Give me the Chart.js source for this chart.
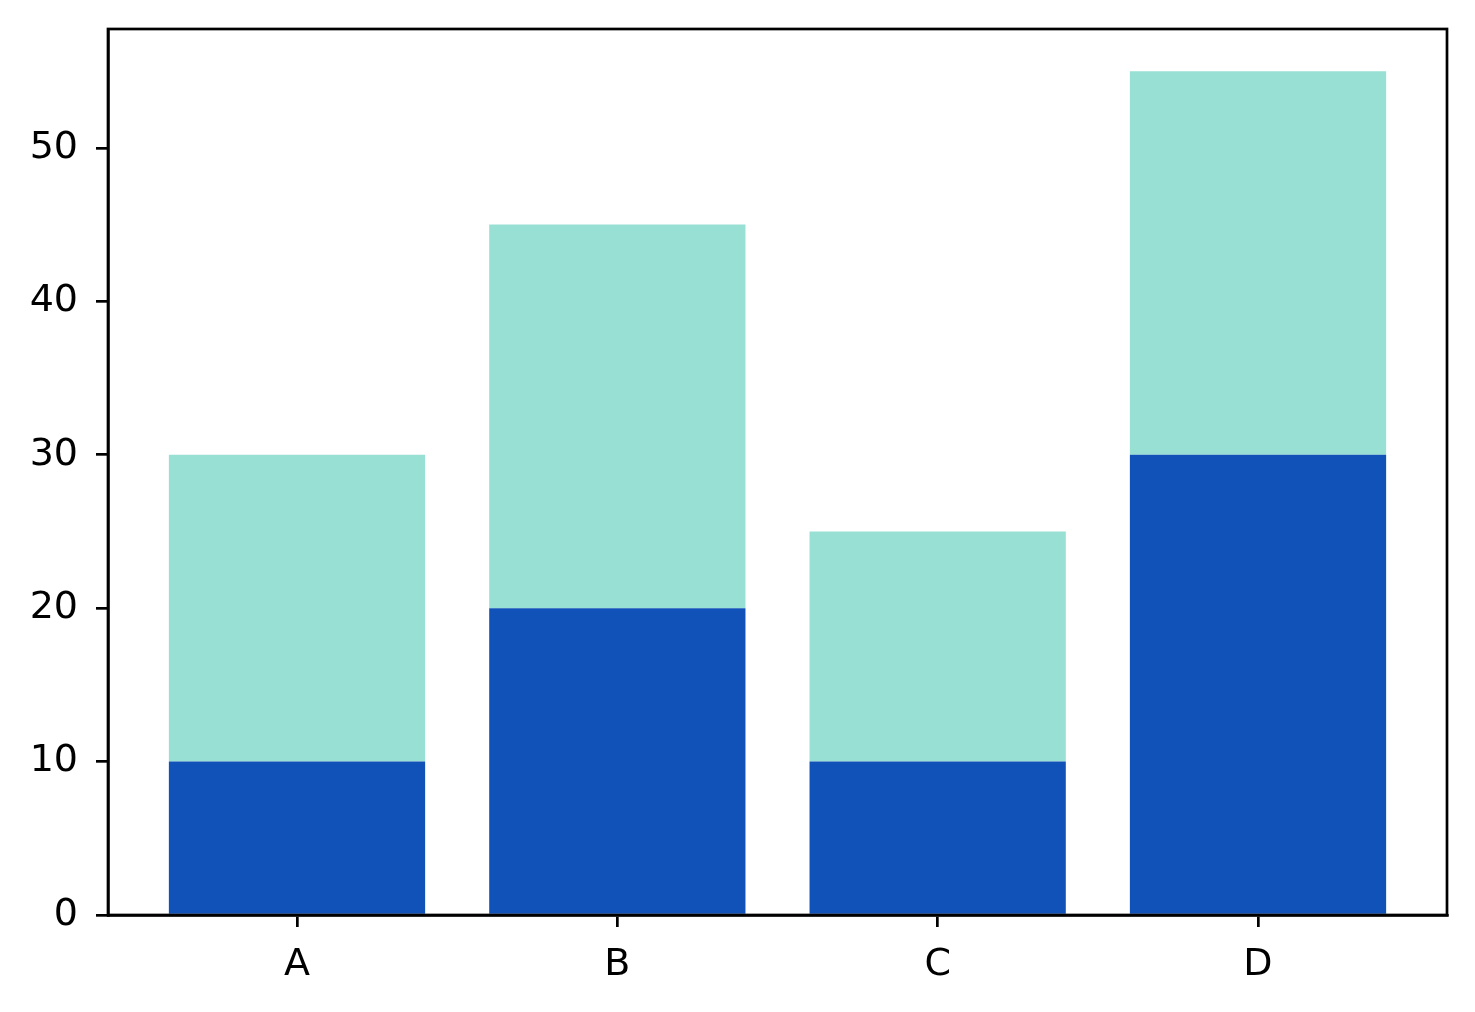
<!DOCTYPE html>
<html>
<head>
<meta charset="utf-8">
<script src="https://cdn.jsdelivr.net/npm/chart.js@4/dist/chart.umd.min.js"></script>
<style>
html,body{margin:0;padding:0;background:#fff;}
#wrap{width:1475px;height:1012px;}
</style>
</head>
<body>
<div id="wrap"><canvas id="c" width="1475" height="1012"></canvas></div>
<script>
const categories = ['A', 'B', 'C', 'D'];
const seriesBottom = [10, 20, 10, 30];
const seriesTop = [20, 25, 15, 25];
const yTicks = [0, 10, 20, 30, 40, 50];

const frame = {
  id: 'frame',
  afterDraw(chart) {
    const a = chart.chartArea, ctx = chart.ctx;
    ctx.save();
    ctx.strokeStyle = '#000';
    ctx.lineWidth = 2.7;
    ctx.strokeRect(a.left, a.top, a.right - a.left, a.bottom - a.top);
    ctx.restore();
  }
};

const font = {family: 'DejaVu Sans', size: 38};

new Chart(document.getElementById('c'), {
  type: 'bar',
  data: {
    datasets: [
      {data: categories.map((c, i) => ({x: i, y: seriesBottom[i]})), backgroundColor: '#1052b8', barPercentage: 0.8, categoryPercentage: 1},
      {data: categories.map((c, i) => ({x: i, y: seriesTop[i]})), backgroundColor: '#98dfd4', barPercentage: 0.8, categoryPercentage: 1}
    ]
  },
  options: {
    responsive: false,
    devicePixelRatio: 1,
    animation: false,
    layout: {padding: {top: 29, right: 28, left: 0, bottom: 0}},
    plugins: {legend: {display: false}, tooltip: {enabled: false}},
    scales: {
      x: {
        type: 'linear', stacked: true, min: -0.59, max: 3.59, offset: false,
        afterBuildTicks(s) { s.ticks = categories.map((c, i) => ({value: i})); },
        afterFit(s) { s.height = 97; },
        grid: {offset: false, drawOnChartArea: false, tickLength: 12, tickColor: '#000', lineWidth: 2.7, tickWidth: 2.7},
        border: {display: true, color: '#000', width: 2.7},
        ticks: {color: '#000', font, padding: 15, maxRotation: 0, autoSkip: false,
          callback: (v) => categories[v]}
      },
      y: {
        type: 'linear', stacked: true, min: 0, max: 57.75,
        afterBuildTicks(s) { s.ticks = yTicks.map(v => ({value: v})); },
        afterFit(s) { s.width = 108; s.paddingTop = 0; s.paddingBottom = 0; },
        grid: {drawOnChartArea: false, tickLength: 12, tickColor: '#000', lineWidth: 2.7, tickWidth: 2.7},
        border: {display: true, color: '#000', width: 2.7},
        ticks: {color: '#000', font, padding: 18, autoSkip: false}
      }
    }
  },
  plugins: [frame]
});
</script>
</body>
</html>
